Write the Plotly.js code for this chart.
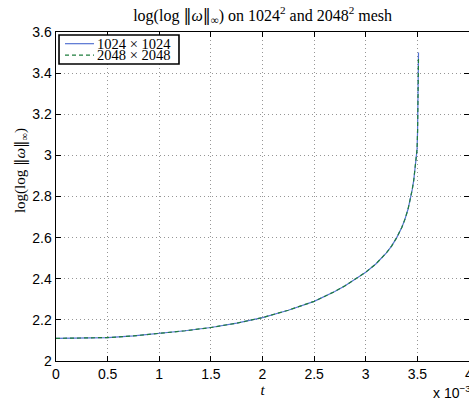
<!DOCTYPE html>
<html>
<head>
<meta charset="utf-8">
<script src="https://cdn.plot.ly/plotly-3.0.1.min.js"></script>
<style>html,body{margin:0;padding:0;background:#fff;}#chart{width:469px;height:402px;}</style>
</head>
<body>
<div id="chart"></div>
<script>
// time in units of 1e-3
const tScaled    = [0, 0.25, 0.5, 0.75, 1, 1.25, 1.5, 1.75, 2, 2.25, 2.5, 2.6, 2.7, 2.8, 2.9, 3.0, 3.1, 3.2, 3.25, 3.3, 3.35, 3.38, 3.41, 3.43, 3.45, 3.465, 3.475, 3.485, 3.492, 3.497, 3.502, 3.505, 3.507, 3.509, 3.511];
const loglog1024 = [2.110, 2.111, 2.114, 2.122, 2.133, 2.147, 2.163, 2.184, 2.211, 2.247, 2.290, 2.313, 2.338, 2.366, 2.398, 2.432, 2.473, 2.526, 2.559, 2.600, 2.651, 2.690, 2.739, 2.780, 2.833, 2.880, 2.920, 2.960, 2.990, 3.030, 3.120, 3.200, 3.280, 3.380, 3.500];
const loglog2048 = [2.110, 2.111, 2.114, 2.122, 2.133, 2.147, 2.163, 2.184, 2.211, 2.247, 2.290, 2.313, 2.338, 2.366, 2.398, 2.432, 2.473, 2.526, 2.559, 2.600, 2.651, 2.690, 2.739, 2.780, 2.833, 2.880, 2.920, 2.960, 2.990, 3.030, 3.120, 3.200, 3.280, 3.380, 3.480];
const seriesNames = ['1024 × 1024', '2048 × 2048'];
const xTicks = [0, 0.5, 1, 1.5, 2, 2.5, 3, 3.5, 4];
const xTickText = ['0', '0.5', '1', '1.5', '2', '2.5', '3', '3.5', '4'];
const yTicks = [2, 2.2, 2.4, 2.6, 2.8, 3, 3.2, 3.4, 3.6];
const yTickText = ['2', '2.2', '2.4', '2.6', '2.8', '3', '3.2', '3.4', '3.6'];

const serif = 'Liberation Serif, Times New Roman, serif';
const sans = 'Liberation Sans, Arial, Helvetica, sans-serif';
const dbar = '<span style="font-family:DejaVu Serif">‖</span>';
const normText = 'log(log ' + dbar + '<i>ω</i>' + dbar + '<sub>∞</sub>)';

const colors = ['rgb(85,115,210)', 'rgb(30,125,60)'];
const dashes = ['solid', '4px,3px'];

const traces = [
  {x: tScaled, y: loglog1024, type: 'scatter', mode: 'lines', name: seriesNames[0],
   line: {color: colors[0], width: 1.2, dash: dashes[0]}},
  {x: tScaled, y: loglog2048, type: 'scatter', mode: 'lines', name: seriesNames[1],
   line: {color: colors[1], width: 1.2, dash: dashes[1]}}
];

const axisCommon = {
  showline: true, linecolor: '#000', linewidth: 1.4, mirror: 'ticks',
  ticks: 'inside', ticklen: 5, tickcolor: '#000', tickwidth: 1,
  showgrid: true, gridcolor: 'rgb(150,150,150)', griddash: '1px,3px', gridwidth: 1,
  zeroline: false, tickfont: {family: sans, size: 14, color: '#000'},
  ticklabeloverflow: 'allow'
};

// legend geometry (paper coords)
const lgBox = {x0: 0.0073, x1: 0.2978, y0: 0.9027, y1: 0.9909};
const lgRows = [0.9645, 0.9300];
const lgLineX = [0.0218, 0.092];
const lgTextX = 0.0969;

const shapes = [
  {type: 'rect', xref: 'paper', yref: 'paper', x0: lgBox.x0, x1: lgBox.x1, y0: lgBox.y0, y1: lgBox.y1,
   line: {color: '#000', width: 1.6}, fillcolor: '#fff', layer: 'above'}
];
const annotations = [];
seriesNames.forEach((nm, i) => {
  shapes.push({type: 'line', xref: 'paper', yref: 'paper', x0: lgLineX[0], x1: lgLineX[1], y0: lgRows[i], y1: lgRows[i],
               line: {color: colors[i], width: 1.2, dash: dashes[i]}, layer: 'above'});
  annotations.push({text: nm, xref: 'paper', yref: 'paper', x: lgTextX, y: lgRows[i], xanchor: 'left', yanchor: 'middle',
                    showarrow: false, borderpad: 0, font: {family: serif, size: 14.5, color: '#000'}});
});
annotations.push({text: normText, xref: 'paper', yref: 'paper', x: -0.087, y: 0.5775, textangle: -90,
                  xanchor: 'center', yanchor: 'middle', showarrow: false, font: {family: serif, size: 15, color: '#000'}});
annotations.push({text: 'x 10<sup>−3</sup>', xref: 'paper', yref: 'paper', x: 0.91, y: -0.1246,
                  xanchor: 'left', yanchor: 'bottom', showarrow: false, borderpad: 0,
                  font: {family: sans, size: 14, color: '#000'}});

const layout = {
  width: 469, height: 402,
  margin: {l: 56, r: 0, t: 32, b: 41, pad: 0},
  paper_bgcolor: '#fff', plot_bgcolor: '#fff',
  showlegend: false,
  title: {text: normText + ' on 1024<sup>2</sup> and 2048<sup>2</sup> mesh',
          font: {family: serif, size: 16, color: '#000'}, x: 0.56, xanchor: 'center', y: 0.962, yanchor: 'middle'},
  xaxis: Object.assign({}, axisCommon, {
    range: [0, 4], tickvals: xTicks, ticktext: xTickText, automargin: false,
    title: {text: '<i>t</i>', font: {family: serif, size: 15, color: '#000'}, standoff: 1}
  }),
  yaxis: Object.assign({}, axisCommon, {
    range: [2, 3.6], tickvals: yTicks, ticktext: yTickText, automargin: false
  }),
  shapes: shapes,
  annotations: annotations
};

Plotly.newPlot('chart', traces, layout, {displayModeBar: false, staticPlot: true});
</script>
</body>
</html>
